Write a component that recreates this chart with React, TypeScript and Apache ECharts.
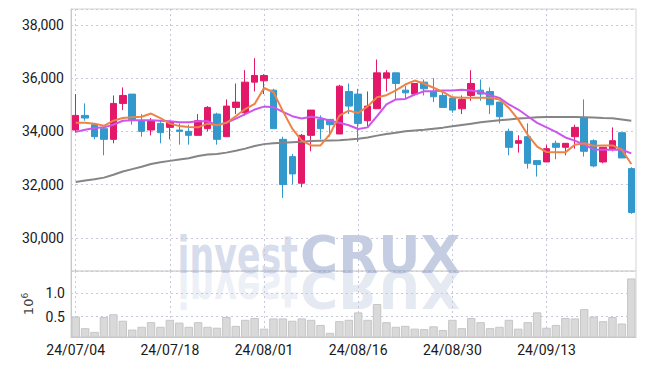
import { useEffect, useRef } from 'react';
import * as echarts from 'echarts';

const dates = [
  '24/07/04', '24/07/05', '24/07/08', '24/07/09', '24/07/10', '24/07/11', '24/07/12', '24/07/15', '24/07/16', '24/07/17',
  '24/07/18', '24/07/19', '24/07/22', '24/07/23', '24/07/24', '24/07/25', '24/07/26', '24/07/29', '24/07/30', '24/07/31',
  '24/08/01', '24/08/02', '24/08/05', '24/08/06', '24/08/07', '24/08/08', '24/08/09', '24/08/12', '24/08/13', '24/08/14',
  '24/08/16', '24/08/19', '24/08/20', '24/08/21', '24/08/22', '24/08/23', '24/08/26', '24/08/27', '24/08/28', '24/08/29',
  '24/08/30', '24/09/02', '24/09/03', '24/09/04', '24/09/05', '24/09/06', '24/09/09', '24/09/10', '24/09/11', '24/09/12',
  '24/09/13', '24/09/19', '24/09/20', '24/09/23', '24/09/24', '24/09/25', '24/09/26', '24/09/27', '24/09/30', '24/10/02',
];

const openP = [
  34050, 34600, 34250, 34100, 33700, 35050, 35400, 34400, 34050, 34300,
  34150, 34050, 34000, 33850, 34100, 34650, 33800, 34900, 34700, 35850,
  35900, 35550, 33700, 33050, 32050, 33850, 34450, 34450, 33900, 35500,
  35400, 34400, 34850, 36000, 36200, 35550, 35400, 35850, 35500, 35350,
  35250, 34850, 35350, 35550, 35500, 35100, 34000, 33550, 33800, 32900,
  32850, 33550, 33400, 33800, 34500, 33650, 32850, 33350, 33950, 32600,
];
const closeP = [
  34600, 34500, 33800, 33700, 35050, 35350, 34450, 34000, 34400, 33950,
  34350, 34000, 33850, 34400, 34900, 33700, 34950, 35100, 35850, 36100,
  36100, 34100, 32000, 32400, 33850, 34800, 34100, 34250, 35700, 34950,
  34300, 34950, 36200, 36200, 35800, 35450, 35800, 35600, 35300, 34900,
  34800, 35200, 35800, 35400, 35000, 34550, 33400, 33650, 32800, 32750,
  33350, 33400, 33550, 34150, 33250, 32700, 33400, 33650, 33000, 30950,
];
const lowP = [
  33950, 34400, 33700, 33100, 33550, 34800, 34250, 33800, 33850, 33550,
  33700, 33500, 33500, 33850, 34000, 33500, 33800, 34650, 34600, 35500,
  35400, 34100, 31500, 32000, 31900, 33250, 33700, 33800, 33900, 34650,
  33600, 34200, 34850, 35500, 35200, 35200, 35350, 35350, 35100, 34900,
  34700, 34650, 35150, 35150, 34650, 34300, 33100, 33200, 32600, 32300,
  32850, 32950, 33100, 33350, 33050, 32650, 32800, 33250, 33000, 30900,
];
const highP = [
  35400, 35050, 34300, 34150, 35350, 35650, 35400, 34650, 34500, 34400,
  34400, 34300, 34250, 34650, 34950, 34700, 35200, 35800, 36300, 36750,
  36150, 35600, 33800, 33150, 33900, 34800, 34600, 34450, 35750, 35800,
  35600, 35500, 36700, 36300, 36200, 35700, 35800, 35950, 36000, 35550,
  35250, 35350, 36300, 35950, 35650, 35100, 34100, 33850, 34300, 32900,
  33500, 33650, 33550, 34250, 35200, 33700, 33400, 34150, 33950, 32650,
];

const ma5 = [
  34320, 34320, 34290, 34210, 34400, 34500, 34530, 34550, 34670, 34500,
  34290, 34200, 34160, 34150, 34290, 34230, 34320, 34570, 34840, 35030,
  35630, 35470, 34760, 34100, 33650, 33470, 33470, 33900, 34590, 34780,
  34690, 34940, 35280, 35360, 35540, 35760, 35910, 35790, 35640, 35480,
  35280, 35260, 35260, 35260, 35260, 35200, 34880, 34440, 33870, 33430,
  33220, 33210, 33210, 33500, 33550, 33460, 33470, 33470, 33310, 32770,
];
const ma10 = [
  33980, 34060, 34130, 34150, 34250, 34400, 34420, 34420, 34420, 34400,
  34380, 34340, 34340, 34380, 34380, 34230, 34320, 34480, 34650, 34820,
  34930, 34910, 34730, 34570, 34480, 34550, 34500, 34400, 34320, 34230,
  34090, 34150, 34570, 35010, 35200, 35220, 35380, 35510, 35510, 35540,
  35540, 35560, 35540, 35480, 35360, 35260, 35010, 34820, 34570, 34320,
  34150, 33980, 33770, 33650, 33500, 33320, 33310, 33310, 33310, 33170,
];
const maLong = [
  32100, 32150, 32200, 32260, 32370, 32490, 32580, 32670, 32770, 32840,
  32890, 32940, 32990, 33070, 33130, 33150, 33200, 33270, 33350, 33450,
  33520, 33550, 33570, 33590, 33610, 33640, 33650, 33660, 33670, 33690,
  33720, 33770, 33840, 33900, 33950, 34000, 34030, 34060, 34100, 34140,
  34190, 34240, 34290, 34340, 34380, 34420, 34450, 34480, 34500, 34530,
  34540, 34540, 34540, 34540, 34530, 34520, 34500, 34490, 34450, 34400,
];

// volume in millions (10^6)
const volumes = [
  0.50, 0.25, 0.17, 0.49, 0.55, 0.41, 0.22, 0.28, 0.38, 0.28,
  0.43, 0.37, 0.28, 0.38, 0.28, 0.26, 0.49, 0.30, 0.43, 0.47,
  0.24, 0.46, 0.46, 0.41, 0.46, 0.43, 0.32, 0.15, 0.40, 0.43,
  0.59, 0.43, 0.77, 0.38, 0.28, 0.30, 0.24, 0.23, 0.29, 0.21,
  0.43, 0.25, 0.47, 0.38, 0.25, 0.28, 0.43, 0.24, 0.38, 0.59,
  0.26, 0.32, 0.47, 0.46, 0.66, 0.50, 0.40, 0.49, 0.35, 1.32,
];

const LABEL_FONT = 'Roboto, "Liberation Sans", sans-serif';
const UP = '#e41868';
const DOWN = '#3399cc';
const GRIDLINE = '#c6c9dc';

export default function App() {
  const ref = useRef<HTMLDivElement>(null);
  useEffect(() => {
    const chart = echarts.init(ref.current!, null, { renderer: 'svg' });
    const candles = dates.map((_, i) => [openP[i], closeP[i], lowP[i], highP[i]]);
    const splitLineX = { show: true, interval: 9, alignWithLabel: true, lineStyle: { color: GRIDLINE, type: [2, 3] } } as any;
    const wmText = (fillA: string, fillB: string) => [
      { type: 'text', x: 298, y: 0, scaleX: 0.67, style: { text: 'invest', x: 0, y: -17, align: 'right', verticalAlign: 'middle', fill: fillA, font: 'bold 52px "DejaVu Sans", sans-serif' } },
      { type: 'text', x: 300, y: 0, style: { text: 'CRUX', x: 0, y: -17, align: 'left', verticalAlign: 'middle', fill: fillB, font: 'bold 52px "DejaVu Sans", sans-serif' } },
    ];
    const option: any = {
      animation: false,
      backgroundColor: '#ffffff',
      grid: [
        { left: 71, right: 9, top: 9, height: 262, show: true, borderColor: '#d4d4d4', borderWidth: 1 },
        { left: 71, right: 9, top: 271, height: 66, show: true, borderColor: '#d4d4d4', borderWidth: 1 },
      ],
      xAxis: [
        {
          type: 'category', gridIndex: 0, data: dates, boundaryGap: true,
          axisLine: { show: false }, axisTick: { show: false }, axisLabel: { show: false },
          splitLine: splitLineX,
        },
        {
          type: 'category', gridIndex: 1, data: dates, boundaryGap: true,
          axisLine: { show: true, lineStyle: { color: '#c8c8c8' } }, axisTick: { show: false },
          axisLabel: { interval: 9, fontSize: 14, color: '#1a1a1a', margin: 6, fontFamily: LABEL_FONT },
          splitLine: splitLineX,
        },
      ],
      yAxis: [
        {
          type: 'value', gridIndex: 0, min: 28750, max: 38600, splitNumber: 5,
          axisLine: { show: true, lineStyle: { color: '#c8c8c8' } }, axisTick: { show: false },
          axisLabel: {
            showMinLabel: false, showMaxLabel: false, fontSize: 14, color: '#1a1a1a', margin: 7, fontFamily: LABEL_FONT,
            formatter: (v: number) => v.toLocaleString('en-US'),
          },
          splitLine: { show: true, lineStyle: { color: GRIDLINE, type: [2, 3] } },
        },
        {
          type: 'value', gridIndex: 1, min: 0.06, max: 1.48, splitNumber: 3,
          axisLine: { show: true, lineStyle: { color: '#c8c8c8' } }, axisTick: { show: false },
          axisLabel: {
            showMinLabel: false, showMaxLabel: false, fontSize: 14, color: '#1a1a1a', margin: 6, fontFamily: LABEL_FONT,
            formatter: (v: number) => v.toFixed(1),
          },
          splitLine: { show: true, lineStyle: { color: GRIDLINE, type: [2, 3] } },
          name: '10{s|6}', nameLocation: 'middle', nameRotate: 90, nameGap: 34,
          nameTextStyle: { fontSize: 13, color: '#444', fontFamily: '"DejaVu Sans", sans-serif', rich: { s: { fontSize: 9, color: '#444', verticalAlign: 'top', padding: [0, 0, 6, 0] } } },
        },
      ],
      series: [
        {
          type: 'candlestick', name: 'price', xAxisIndex: 0, yAxisIndex: 0, data: candles, barWidth: 7,
          itemStyle: { color: UP, color0: DOWN, borderColor: UP, borderColor0: DOWN, borderWidth: 1 },
        },
        { type: 'line', name: 'MA long', xAxisIndex: 0, yAxisIndex: 0, data: maLong, symbol: 'none', lineStyle: { color: '#858585', width: 2 } },
        { type: 'line', name: 'MA10', xAxisIndex: 0, yAxisIndex: 0, data: ma10, symbol: 'none', lineStyle: { color: '#cc55ee', width: 2 } },
        { type: 'line', name: 'MA5', xAxisIndex: 0, yAxisIndex: 0, data: ma5, symbol: 'none', lineStyle: { color: '#ee8348', width: 2 } },
        {
          type: 'bar', name: 'volume', xAxisIndex: 1, yAxisIndex: 1, data: volumes, barCategoryGap: '10%',
          itemStyle: { color: '#d9d9d9', borderColor: '#c6c6c6', borderWidth: 1 },
        },
      ],
      graphic: [
        { type: 'group', x: 0, y: 272, z: 100, silent: true, children: wmText('rgba(150,165,205,0.40)', 'rgba(140,155,200,0.5)') },
        { type: 'group', x: 0, y: 272, scaleY: -1, z: 100, silent: true, children: wmText('rgba(150,165,205,0.18)', 'rgba(140,155,200,0.24)') },
      ],
    };
    chart.setOption(option);
    return () => chart.dispose();
  }, []);
  return <div ref={ref} style={{ position: 'fixed', left: 0, top: 0, width: 645, height: 366 }} />;
}
